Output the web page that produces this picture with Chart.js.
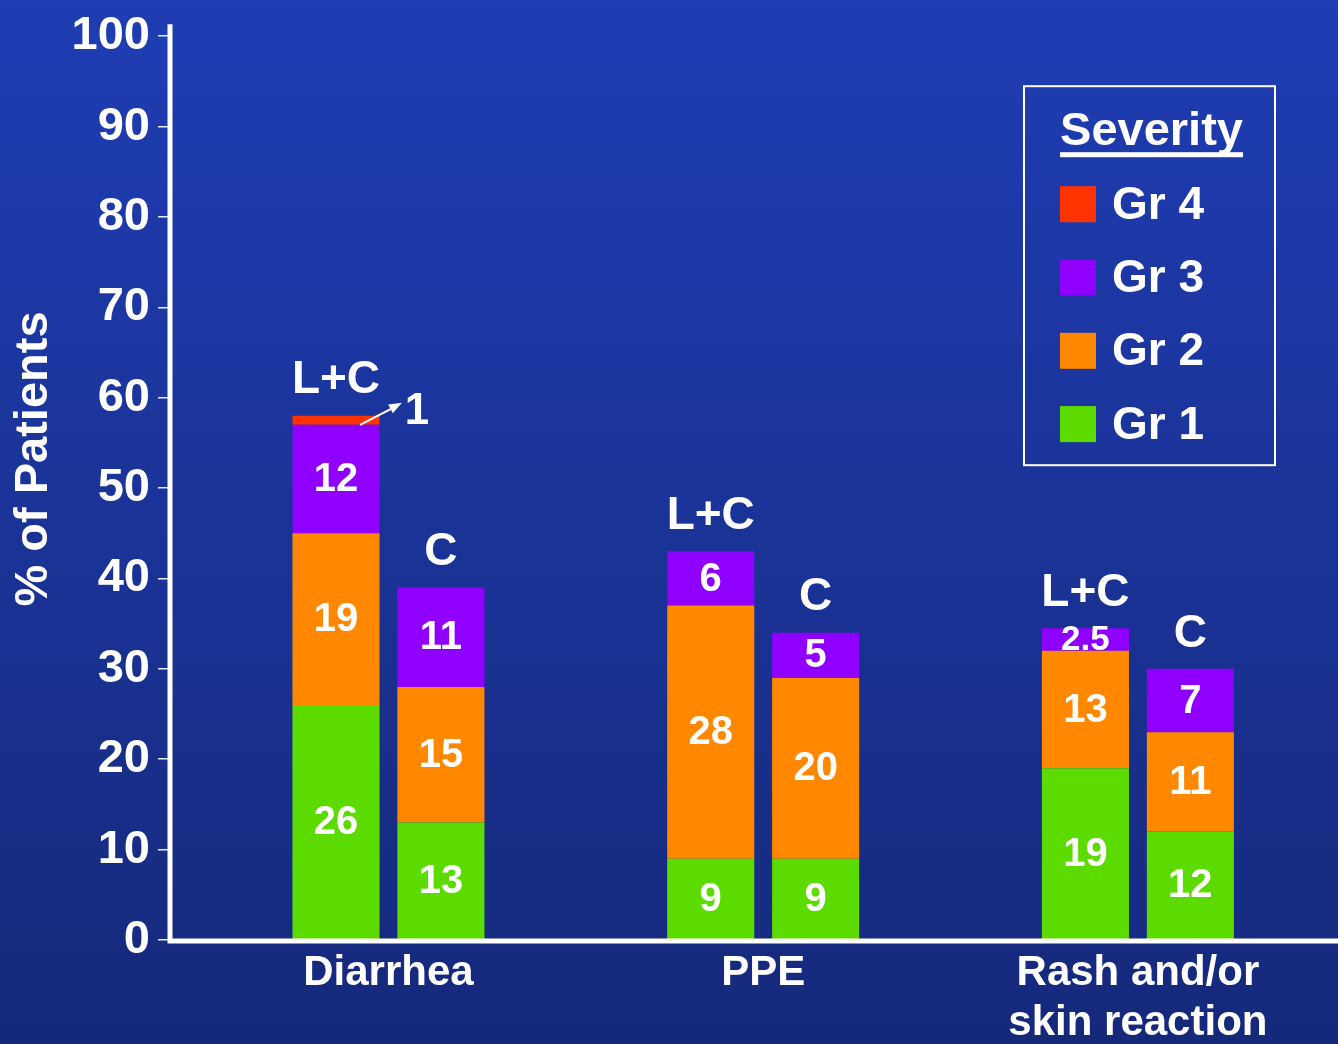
<!DOCTYPE html>
<html>
<head>
<meta charset="utf-8">
<title>Adverse events by severity</title>
<script src="https://cdn.jsdelivr.net/npm/chart.js@4.4.1/dist/chart.umd.min.js"></script>
<style>
  html, body { margin: 0; padding: 0; background: #1a33a0; }
  #wrap { position: relative; width: 1338px; height: 1044px; }
</style>
</head>
<body>
<div id="wrap"><canvas id="chart"></canvas></div>
<script>
// ---- data ----
const categories = ['Diarrhea', 'PPE', ['Rash and/or', 'skin reaction']];
const armNames = ['L+C', 'C'];
const gradeNames = ['Gr 1', 'Gr 2', 'Gr 3', 'Gr 4'];
const gradeColors = ['#5bdb00', '#ff8800', '#9000ff', '#ff3300'];

// % of patients, lapatinib + capecitabine arm
const lcGr1 = [26, 9, 19];
const lcGr2 = [19, 28, 13];
const lcGr3 = [12, 6, 2.5];
const lcGr4 = [1, null, null];

// % of patients, capecitabine arm
const cGr1 = [13, 9, 12];
const cGr2 = [15, 20, 11];
const cGr3 = [11, 5, 7];

const yMin = 0, yMax = 100, yStep = 10;

const FONT = "'Liberation Sans', Arial, Helvetica, sans-serif";

function series(values, grade, arm) {
  return {
    label: gradeNames[grade] + ' (' + armNames[arm] + ')',
    grade: grade,
    stack: armNames[arm],
    data: values.map((v, i) => ({ x: i, y: v })),
    backgroundColor: gradeColors[grade],
    borderWidth: 0,
    categoryPercentage: 0.56,
    barPercentage: 0.83
  };
}

const datasets = [
  series(lcGr1, 0, 0), series(lcGr2, 1, 0), series(lcGr3, 2, 0), series(lcGr4, 3, 0),
  series(cGr1, 0, 1), series(cGr2, 1, 1), series(cGr3, 2, 1)
];

// background, axis lines, value labels, arm labels, key box, y title
const decor = {
  id: 'decor',
  beforeDraw(chart) {
    const { ctx, width, height } = chart;
    const g = ctx.createLinearGradient(0, 0, 0, height);
    g.addColorStop(0, '#1f3db4');
    g.addColorStop(1, '#15297b');
    ctx.save();
    ctx.fillStyle = g;
    ctx.fillRect(0, 0, width, height);
    ctx.restore();
  },
  afterDatasetsDraw(chart) {
    const { ctx, chartArea: a } = chart;
    ctx.save();

    // axis lines
    ctx.strokeStyle = '#ffffff';
    ctx.lineWidth = 5;
    ctx.beginPath();
    ctx.moveTo(a.left, a.top - 12);
    ctx.lineTo(a.left, a.bottom + 2.5);
    ctx.moveTo(a.left - 2.5, a.bottom + 1);
    ctx.lineTo(chart.width, a.bottom + 1);
    ctx.stroke();

    ctx.fillStyle = '#ffffff';
    ctx.textAlign = 'center';
    ctx.textBaseline = 'middle';

    // segment values
    chart.data.datasets.forEach((ds, di) => {
      const meta = chart.getDatasetMeta(di);
      meta.data.forEach((el, i) => {
        const v = ds.data[i].y;
        if (v == null) return;
        if (ds.grade === 3) {
          // thin segment: value sits outside with a pointer
          const x0 = el.x + 24, y0 = el.base;
          const x1 = el.x + 66, y1 = el.y - 13;
          ctx.strokeStyle = '#ffffff';
          ctx.lineWidth = 2;
          ctx.beginPath();
          ctx.moveTo(x0, y0);
          ctx.lineTo(x1 - 8, y1 + 4.5);
          ctx.stroke();
          const ang = Math.atan2(y1 - y0, x1 - x0);
          ctx.beginPath();
          ctx.moveTo(x1, y1);
          ctx.lineTo(x1 - 13 * Math.cos(ang) + 5 * Math.sin(ang), y1 - 13 * Math.sin(ang) - 5 * Math.cos(ang));
          ctx.lineTo(x1 - 13 * Math.cos(ang) - 5 * Math.sin(ang), y1 - 13 * Math.sin(ang) + 5 * Math.cos(ang));
          ctx.closePath();
          ctx.fill();
          ctx.font = 'bold 44px ' + FONT;
          ctx.fillText(String(v), el.x + 81, el.y - 4);
        } else {
          const h = Math.abs(el.base - el.y);
          ctx.font = 'bold ' + (h < 30 ? 35 : 40) + 'px ' + FONT;
          ctx.fillText(String(v), el.x, (el.y + el.base) / 2 + 1);
        }
      });
    });

    // arm labels above each stack
    ctx.font = 'bold 46px ' + FONT;
    armNames.forEach(arm => {
      categories.forEach((c, i) => {
        let top = Infinity, x = null;
        chart.data.datasets.forEach((ds, di) => {
          if (ds.stack !== arm || ds.data[i].y == null) return;
          const el = chart.getDatasetMeta(di).data[i];
          if (el.y < top) { top = el.y; x = el.x; }
        });
        if (x !== null) ctx.fillText(arm, x, top - 35);
      });
    });

    // severity key
    const bx = a.right - 314, by = a.top + 50, bw = 251, bh = 379;
    ctx.strokeStyle = '#ffffff';
    ctx.lineWidth = 2;
    ctx.strokeRect(bx, by, bw, bh);
    ctx.font = 'bold 47px ' + FONT;
    ctx.textBaseline = 'alphabetic';
    const title = 'Severity';
    const tw = ctx.measureText(title).width;
    const tcx = bx + 127.5;
    ctx.fillText(title, tcx, by + 59);
    ctx.fillRect(tcx - tw / 2, by + 66, tw, 5);
    ctx.textAlign = 'left';
    ctx.textBaseline = 'middle';
    ctx.font = 'bold 46px ' + FONT;
    for (let k = 0; k < 4; k++) {
      const grade = 3 - k;
      const cy = by + 118 + k * 73.3;
      ctx.fillStyle = gradeColors[grade];
      ctx.fillRect(bx + 36, cy - 18, 36, 36);
      ctx.fillStyle = '#ffffff';
      ctx.fillText(gradeNames[grade], bx + 88, cy + 2);
    }

    // y axis title
    ctx.translate(34, 459);
    ctx.rotate(-Math.PI / 2);
    ctx.textAlign = 'center';
    ctx.font = 'bold 47px ' + FONT;
    ctx.fillText('% of Patients', 0, 0);

    ctx.restore();
  }
};

new Chart(document.getElementById('chart'), {
  type: 'bar',
  data: { datasets },
  options: {
    responsive: true,
    maintainAspectRatio: false,
    animation: false,
    layout: { padding: { top: 36, left: 0, right: 0, bottom: 0 } },
    plugins: { legend: { display: false }, tooltip: { enabled: false } },
    scales: {
      x: {
        type: 'linear',
        offset: false,
        min: -0.583,
        max: 2.534,
        grid: { display: false, drawTicks: false, tickLength: 0, offset: false },
        border: { display: false },
        afterBuildTicks(axis) {
          axis.ticks = categories.map((c, i) => ({ value: i }));
        },
        afterFit(scale) { scale.height = 104; },
        ticks: {
          autoSkip: false,
          maxRotation: 0,
          padding: 8,
          color: '#ffffff',
          font: { family: FONT, size: 42, weight: 'bold', lineHeight: 1.19 },
          callback: (v) => categories[Math.round(v)]
        }
      },
      y: {
        stacked: true,
        min: yMin,
        max: yMax,
        grid: {
          drawOnChartArea: false,
          drawTicks: true,
          tickLength: 12,
          color: 'rgba(255,255,255,0.9)',
          lineWidth: 1.5
        },
        border: { display: false },
        afterFit(scale) { scale.width = 170; },
        ticks: {
          stepSize: yStep,
          padding: 8,
          color: '#ffffff',
          font: { family: FONT, size: 47, weight: 'bold' }
        }
      }
    }
  },
  plugins: [decor]
});
</script>
</body>
</html>
